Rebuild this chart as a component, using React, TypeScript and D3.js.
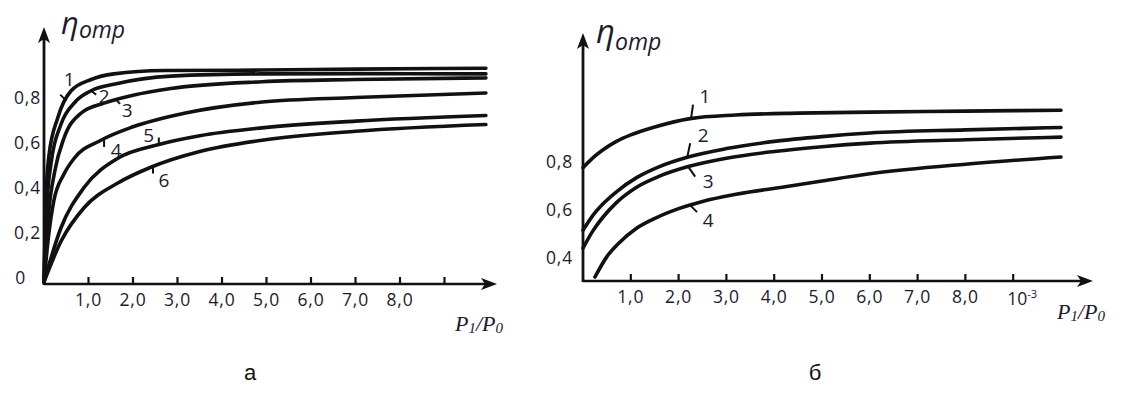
import React from 'react';
import * as d3 from 'd3';

// ---- data ----
// panel "а": six curves, x = P1/P0, y = η
const leftCurves = [
  { name: '1', x: [0, 0.04, 0.11, 0.31, 0.61, 1.06, 1.57, 2.7, 4.9, 7, 9.93], y: [0, 0.36, 0.56, 0.73, 0.85, 0.9, 0.925, 0.94, 0.942, 0.946, 0.95] },
  { name: '2', x: [0, 0.05, 0.16, 0.38, 0.7, 1.06, 1.6, 2.85, 4.9, 7, 9.93], y: [0, 0.3, 0.53, 0.7, 0.8, 0.85, 0.88, 0.915, 0.925, 0.926, 0.925] },
  { name: '3', x: [0, 0.1, 0.25, 0.45, 0.83, 1.35, 2.0, 2.85, 4.9, 7, 9.93], y: [0, 0.3, 0.5, 0.64, 0.75, 0.795, 0.83, 0.86, 0.89, 0.9, 0.907] },
  { name: '4', x: [0, 0.1, 0.22, 0.45, 0.68, 1.28, 2.0, 3.15, 4.9, 7, 9.93], y: [0, 0.2, 0.36, 0.48, 0.55, 0.63, 0.69, 0.75, 0.8, 0.82, 0.84] },
  { name: '5', x: [0, 0.38, 0.9, 1.66, 2.56, 3.5, 4.9, 7, 9.93], y: [0, 0.24, 0.42, 0.55, 0.61, 0.65, 0.685, 0.715, 0.74] },
  { name: '6', x: [0, 0.38, 0.9, 1.66, 2.4, 3.5, 4.9, 7, 9.93], y: [0, 0.18, 0.33, 0.44, 0.51, 0.58, 0.63, 0.67, 0.7] },
];

// panel "б": four curves
const rightCurves = [
  { name: '1', x: [0, 0.2, 0.42, 0.7, 1.0, 1.5, 2.24, 3.2, 4.5, 6, 8, 10], y: [0.78, 0.82, 0.855, 0.89, 0.917, 0.95, 0.985, 1.0, 1.008, 1.012, 1.016, 1.02] },
  { name: '2', x: [0, 0.2, 0.42, 0.7, 1.13, 1.6, 2.2, 3, 4, 5, 6, 8, 10], y: [0.52, 0.58, 0.63, 0.68, 0.74, 0.785, 0.825, 0.86, 0.89, 0.91, 0.925, 0.938, 0.948] },
  { name: '3', x: [0, 0.2, 0.42, 0.7, 1.13, 1.6, 2.2, 3, 4, 5, 6, 8, 10], y: [0.445, 0.515, 0.575, 0.635, 0.7, 0.745, 0.785, 0.82, 0.848, 0.868, 0.883, 0.897, 0.908] },
  { name: '4', x: [0.25, 0.5, 0.77, 1.1, 1.46, 2.0, 2.5, 3.2, 4.2, 5, 6, 8, 10], y: [0.325, 0.41, 0.47, 0.525, 0.565, 0.61, 0.64, 0.67, 0.7, 0.725, 0.755, 0.795, 0.825] },
];

const xTicks = [1, 2, 3, 4, 5, 6, 7, 8, 9];
const xTickLabels = ['1,0', '2,0', '3,0', '4,0', '5,0', '6,0', '7,0', '8,0', ''];
const leftYTicks = [0, 0.2, 0.4, 0.6, 0.8];
const leftYTickLabels = ['0', '0,2', '0,4', '0,6', '0,8'];
const rightYTicks = [0.4, 0.6, 0.8];
const rightYTickLabels = ['0,4', '0,6', '0,8'];

// where each curve's number sits (curve x in data units, offsets in px)
const leftLabelLayout = [
  { u: 0.5, lead: [-6, -6], text: [3, -20] },
  { u: 1.06, lead: [5, 4], text: [13, 7] },
  { u: 1.62, lead: [4, 4], text: [11, 12] },
  { u: 1.35, lead: [0, 8], text: [12, 13] },
  { u: 2.58, lead: [0, -7], text: [-10, -8] },
  { u: 2.45, lead: [0, 7], text: [11, 15] },
];
const rightLabelLayout = [
  { u: 2.26, lead: [2, -14], text: [14, -21] },
  { u: 2.18, lead: [3, -14], text: [16, -20] },
  { u: 2.2, lead: [7, 10], text: [20, 16] },
  { u: 2.24, lead: [7, 7], text: [18, 17] },
];

const INK = '#111';
const TXT = '#1b1b30';
const SANS = "'Open Sans', 'DejaVu Sans', sans-serif";
const SERIF = "'Liberation Serif', 'DejaVu Serif', serif";
const TICK_FS = 17.5;

type Curve = { name: string; x: number[]; y: number[] };

const Panel = ({ curves, layout, x, y, axisY, axisTop, axisRight, yTicks, yTickLabels, zeroLabelX, yLabelX, eta, pLabel, exp, yLabelDy }: any) => {
  const x0 = x.range()[0];
  const line = d3
    .line<[number, number]>()
    .x(d => x(d[0]))
    .y(d => y(d[1]))
    .curve(d3.curveMonotoneX);

  return (
    <g>
      {/* axes */}
      <line x1={x0} y1={axisY} x2={axisRight - 6} y2={axisY} stroke={INK} strokeWidth={2.6} />
      <path d={`M${axisRight},${axisY} L${axisRight - 16},${axisY - 6} L${axisRight - 12},${axisY} L${axisRight - 16},${axisY + 6} Z`} fill={INK} />
      <line x1={x0} y1={axisY + 1} x2={x0} y2={axisTop + 8} stroke={INK} strokeWidth={2.8} />
      <path d={`M${x0},${axisTop} L${x0 - 6},${axisTop + 16} L${x0},${axisTop + 12} L${x0 + 6},${axisTop + 16} Z`} fill={INK} />

      {xTicks.map((t, i) => (
        <g key={t}>
          <line x1={x(t)} x2={x(t)} y1={axisY} y2={axisY - 7} stroke={INK} strokeWidth={2.2} />
          <text x={x(t)} y={axisY + 22} textAnchor="middle" fontFamily={SANS} fontSize={TICK_FS} letterSpacing={0.8} fill={TXT}>
            {xTickLabels[i]}
          </text>
        </g>
      ))}
      {exp && (
        <text x={x(9) + 9} y={axisY + 24} textAnchor="middle" fontFamily={SANS} fontSize={TICK_FS} fill={TXT}>
          10<tspan dy={-7} fontSize={11}>-3</tspan>
        </text>
      )}

      {yTicks.map((t: number, i: number) => (
        <text
          key={t}
          x={t === 0 ? zeroLabelX : yLabelX}
          y={y(t) + yLabelDy}
          textAnchor="end"
          dominantBaseline="middle"
          fontFamily={SANS}
          fontSize={TICK_FS}
          letterSpacing={0.8}
          fill={TXT}
        >
          {yTickLabels[i]}
        </text>
      ))}

      {/* curves */}
      {curves.map((c: Curve) => (
        <path
          key={c.name}
          d={line(c.x.map((v, i) => [v, c.y[i]] as [number, number])) || ''}
          fill="none"
          stroke={INK}
          strokeWidth={3.6}
          strokeLinecap="round"
        />
      ))}

      {/* curve numbers with leader strokes */}
      {curves.map((c: Curve, i: number) => {
        const l = layout[i];
        const interp = d3.scaleLinear().domain(c.x).range(c.y);
        const px = x(l.u);
        const py = y(interp(l.u));
        return (
          <g key={'lab' + c.name}>
            <line x1={px} y1={py} x2={px + l.lead[0]} y2={py + l.lead[1]} stroke={INK} strokeWidth={2} />
            <text
              x={px + l.text[0]}
              y={py + l.text[1]}
              textAnchor="middle"
              dominantBaseline="middle"
              fontFamily={SANS}
              fontSize={19}
              fill={TXT}
            >
              {c.name}
            </text>
          </g>
        );
      })}

      {/* axis titles */}
      <text x={eta.x} y={eta.y} fontFamily={SANS} fontStyle="italic" fill={TXT}>
        <tspan fontSize={eta.size}>η</tspan>
        <tspan fontSize={23} dy={eta.sub}>отр</tspan>
      </text>
      <text x={pLabel.x} y={pLabel.y} fontFamily={SERIF} fontStyle="italic" fontSize={22} fill={TXT}>
        P<tspan fontSize={15} dy={2}>1</tspan>
        <tspan dy={-2}>/P</tspan>
        <tspan fontSize={15} dy={2}>0</tspan>
      </text>
    </g>
  );
};

export default function App() {
  const leftX = d3.scaleLinear().domain([0, 10]).range([44, 489]);
  const leftY = d3.scaleLinear().domain([0, 1]).range([282, 57]);
  const rightX = d3.scaleLinear().domain([0, 10]).range([583, 1061]);
  const rightY = d3.scaleLinear().domain([0.4, 0.8]).range([259, 163]);

  return (
    <svg width={1121} height={396} style={{ position: 'absolute', left: 0, top: 0, background: '#fff' }}>
      <Panel
        curves={leftCurves}
        layout={leftLabelLayout}
        x={leftX}
        y={leftY}
        axisY={284}
        axisTop={27}
        axisRight={497}
        yTicks={leftYTicks}
        yTickLabels={leftYTickLabels}
        zeroLabelX={26}
        yLabelX={41}
        yLabelDy={-3}
        eta={{ x: 61, y: 34, size: 31, sub: 4 }}
        pLabel={{ x: 455, y: 331 }}
        exp={false}
      />
      <Panel
        curves={rightCurves}
        layout={rightLabelLayout}
        x={rightX}
        y={rightY}
        axisY={281}
        axisTop={33}
        axisRight={1093}
        yTicks={rightYTicks}
        yTickLabels={rightYTickLabels}
        zeroLabelX={560}
        yLabelX={573}
        yLabelDy={0}
        eta={{ x: 596, y: 43, size: 33, sub: 7 }}
        pLabel={{ x: 1057, y: 319 }}
        exp={true}
      />
      <text x={250} y={380} textAnchor="middle" fontFamily="'Liberation Sans', Arial, sans-serif" fontSize={22} fill={INK}>
        а
      </text>
      <text x={815} y={380} textAnchor="middle" fontFamily="'Liberation Sans', Arial, sans-serif" fontSize={22} fill={INK}>
        б
      </text>
    </svg>
  );
}
